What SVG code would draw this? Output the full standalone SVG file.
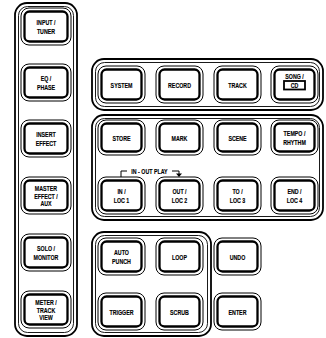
<svg xmlns="http://www.w3.org/2000/svg" width="326" height="338" viewBox="0 0 326 338">
<style>
.po{fill:none;stroke:#000;stroke-width:1.8}
.pi{fill:none;stroke:#000;stroke-width:0.9}
.bo{fill:#fff;stroke:#000;stroke-width:1}
.bi{fill:none;stroke:#000;stroke-width:2.3}
.t{font-family:"Liberation Sans",Arial,sans-serif;font-weight:bold;font-size:7.8px;text-anchor:middle;fill:#000;stroke:#000;stroke-width:0.15}
</style>
<rect width="326" height="338" fill="#fff"/>
<g id="panels">
<rect class="po" x="15" y="3" width="62" height="333" rx="12"/>
<rect class="pi" x="18.5" y="6.5" width="55" height="326" rx="9"/>
<rect class="po" x="92" y="59" width="231" height="51" rx="12"/>
<rect class="pi" x="95.5" y="62.5" width="224" height="44" rx="9"/>
<rect class="po" x="92" y="115" width="231" height="105" rx="12"/>
<rect class="pi" x="95.5" y="118.5" width="224" height="98" rx="9"/>
<rect class="po" x="92" y="232" width="119" height="104" rx="12"/>
<rect class="pi" x="95.5" y="235.5" width="112" height="97" rx="9"/>
</g>
<g id="connectors">
<path d="M121,178 V171 H127" fill="none" stroke="#000" stroke-width="1"/>
<path d="M172,171 H179 V174" fill="none" stroke="#000" stroke-width="1"/>
<path d="M176,173.5 L182,173.5 L179,177 Z" fill="#000"/>
<text class="t" transform="translate(149.5,174) scale(0.68,1)">IN - OUT PLAY</text>
</g>
<g id="input-tuner"><rect class="bo" x="21" y="8" width="50" height="37" rx="8"/><rect class="bi" x="24.5" y="11.5" width="43" height="30" rx="5"/>
<text class="t" transform="translate(46,25) scale(0.68,1)">INPUT /</text><text class="t" transform="translate(46,33.5) scale(0.68,1)">TUNER</text></g>
<g id="eq-phase"><rect class="bo" x="21" y="64" width="50" height="37" rx="8"/><rect class="bi" x="24.5" y="67.5" width="43" height="30" rx="5"/>
<text class="t" transform="translate(46,81) scale(0.68,1)">EQ /</text><text class="t" transform="translate(46,89.5) scale(0.68,1)">PHASE</text></g>
<g id="insert-effect"><rect class="bo" x="21" y="120" width="50" height="37" rx="8"/><rect class="bi" x="24.5" y="123.5" width="43" height="30" rx="5"/>
<text class="t" transform="translate(46,137) scale(0.68,1)">INSERT</text><text class="t" transform="translate(46,145.5) scale(0.68,1)">EFFECT</text></g>
<g id="master-effect-aux"><rect class="bo" x="21" y="177" width="50" height="37" rx="8"/><rect class="bi" x="24.5" y="180.5" width="43" height="30" rx="5"/>
<text class="t" transform="translate(46,191) scale(0.68,1)">MASTER</text><text class="t" transform="translate(46,198.5) scale(0.68,1)">EFFECT /</text><text class="t" transform="translate(46,206) scale(0.68,1)">AUX</text></g>
<g id="solo-monitor"><rect class="bo" x="21" y="234" width="50" height="37" rx="8"/><rect class="bi" x="24.5" y="237.5" width="43" height="30" rx="5"/>
<text class="t" transform="translate(46,251) scale(0.68,1)">SOLO /</text><text class="t" transform="translate(46,259.5) scale(0.68,1)">MONITOR</text></g>
<g id="meter-track-view"><rect class="bo" x="21" y="291" width="50" height="37" rx="8"/><rect class="bi" x="24.5" y="294.5" width="43" height="30" rx="5"/>
<text class="t" transform="translate(46,305) scale(0.68,1)">METER /</text><text class="t" transform="translate(46,312.5) scale(0.68,1)">TRACK</text><text class="t" transform="translate(46,320) scale(0.68,1)">VIEW</text></g>

<g id="system"><rect class="bo" x="98" y="66" width="47" height="37" rx="8"/><rect class="bi" x="101.5" y="69.5" width="40" height="30" rx="5"/>
<text class="t" transform="translate(121.5,87.5) scale(0.68,1)">SYSTEM</text></g>
<g id="record"><rect class="bo" x="156" y="66" width="47" height="37" rx="8"/><rect class="bi" x="159.5" y="69.5" width="40" height="30" rx="5"/>
<text class="t" transform="translate(179.5,87.5) scale(0.68,1)">RECORD</text></g>
<g id="track"><rect class="bo" x="214" y="66" width="47" height="37" rx="8"/><rect class="bi" x="217.5" y="69.5" width="40" height="30" rx="5"/>
<text class="t" transform="translate(237.5,87.5) scale(0.68,1)">TRACK</text></g>
<g id="song-cd"><rect class="bo" x="271" y="66" width="47" height="37" rx="8"/><rect class="bi" x="274.5" y="69.5" width="40" height="30" rx="5"/>
<text class="t" transform="translate(294.5,79) scale(0.68,1)">SONG /</text>
<rect x="284" y="81" width="21" height="8.5" fill="#fff" stroke="#000" stroke-width="1.8"/>
<text class="t" transform="translate(294.5,88) scale(0.68,1)">CD</text></g>

<g id="store"><rect class="bo" x="98" y="120" width="47" height="35" rx="8"/><rect class="bi" x="101.5" y="123.5" width="40" height="28" rx="5"/>
<text class="t" transform="translate(121.5,140.5) scale(0.68,1)">STORE</text></g>
<g id="mark"><rect class="bo" x="156" y="120" width="47" height="35" rx="8"/><rect class="bi" x="159.5" y="123.5" width="40" height="28" rx="5"/>
<text class="t" transform="translate(179.5,140.5) scale(0.68,1)">MARK</text></g>
<g id="scene"><rect class="bo" x="214" y="120" width="47" height="35" rx="8"/><rect class="bi" x="217.5" y="123.5" width="40" height="28" rx="5"/>
<text class="t" transform="translate(237.5,140.5) scale(0.68,1)">SCENE</text></g>
<g id="tempo-rhythm"><rect class="bo" x="271" y="120" width="47" height="35" rx="8"/><rect class="bi" x="274.5" y="123.5" width="40" height="28" rx="5"/>
<text class="t" transform="translate(294.5,136) scale(0.68,1)">TEMPO /</text><text class="t" transform="translate(294.5,144.5) scale(0.68,1)">RHYTHM</text></g>

<g id="in-loc1"><rect class="bo" x="98" y="177" width="47" height="37" rx="8"/><rect class="bi" x="101.5" y="180.5" width="40" height="30" rx="5"/>
<text class="t" transform="translate(121.5,194) scale(0.68,1)">IN /</text><text class="t" transform="translate(121.5,202.5) scale(0.68,1)">LOC 1</text></g>
<g id="out-loc2"><rect class="bo" x="156" y="177" width="47" height="37" rx="8"/><rect class="bi" x="159.5" y="180.5" width="40" height="30" rx="5"/>
<text class="t" transform="translate(179.5,194) scale(0.68,1)">OUT /</text><text class="t" transform="translate(179.5,202.5) scale(0.68,1)">LOC 2</text></g>
<g id="to-loc3"><rect class="bo" x="214" y="177" width="47" height="37" rx="8"/><rect class="bi" x="217.5" y="180.5" width="40" height="30" rx="5"/>
<text class="t" transform="translate(237.5,194) scale(0.68,1)">TO /</text><text class="t" transform="translate(237.5,202.5) scale(0.68,1)">LOC 3</text></g>
<g id="end-loc4"><rect class="bo" x="271" y="177" width="47" height="37" rx="8"/><rect class="bi" x="274.5" y="180.5" width="40" height="30" rx="5"/>
<text class="t" transform="translate(294.5,194) scale(0.68,1)">END /</text><text class="t" transform="translate(294.5,202.5) scale(0.68,1)">LOC 4</text></g>

<g id="auto-punch"><rect class="bo" x="98" y="238" width="47" height="37" rx="8"/><rect class="bi" x="101.5" y="241.5" width="40" height="30" rx="5"/>
<text class="t" transform="translate(121.5,255) scale(0.68,1)">AUTO</text><text class="t" transform="translate(121.5,263.5) scale(0.68,1)">PUNCH</text></g>
<g id="loop"><rect class="bo" x="156" y="238" width="47" height="37" rx="8"/><rect class="bi" x="159.5" y="241.5" width="40" height="30" rx="5"/>
<text class="t" transform="translate(179.5,259.5) scale(0.68,1)">LOOP</text></g>
<g id="undo"><rect class="bo" x="214" y="238" width="47" height="37" rx="8"/><rect class="bi" x="217.5" y="241.5" width="40" height="30" rx="5"/>
<text class="t" transform="translate(237.5,259.5) scale(0.68,1)">UNDO</text></g>
<g id="trigger"><rect class="bo" x="98" y="293" width="47" height="37" rx="8"/><rect class="bi" x="101.5" y="296.5" width="40" height="30" rx="5"/>
<text class="t" transform="translate(121.5,314.5) scale(0.68,1)">TRIGGER</text></g>
<g id="scrub"><rect class="bo" x="156" y="293" width="47" height="37" rx="8"/><rect class="bi" x="159.5" y="296.5" width="40" height="30" rx="5"/>
<text class="t" transform="translate(179.5,314.5) scale(0.68,1)">SCRUB</text></g>
<g id="enter"><rect class="bo" x="214" y="293" width="47" height="37" rx="8"/><rect class="bi" x="217.5" y="296.5" width="40" height="30" rx="5"/>
<text class="t" transform="translate(237.5,314.5) scale(0.68,1)">ENTER</text></g>
</svg>
